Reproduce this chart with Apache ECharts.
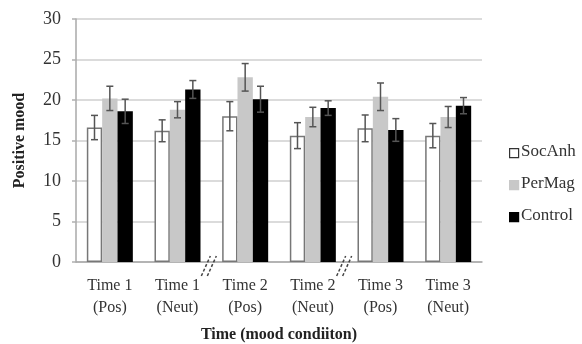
<!DOCTYPE html>
<html>
<head>
<meta charset="utf-8">
<script src="https://cdn.jsdelivr.net/npm/echarts@6/dist/echarts.min.js"></script>
<style>
  html, body { margin: 0; padding: 0; background: #fff; }
  #chart { width: 582px; height: 344px; }
</style>
</head>
<body>
<div id="chart"></div>
<script>
// categories and values
const categories = ['Time 1\n(Pos)', 'Time 1\n(Neut)', 'Time 2\n(Pos)', 'Time 2\n(Neut)', 'Time 3\n(Pos)', 'Time 3\n(Neut)'];
const socAnh = [16.6, 16.2, 18.0, 15.6, 16.5, 15.6];
const socAnhErr = [1.5, 1.35, 1.8, 1.6, 1.65, 1.5];
const perMag = [20.2, 18.8, 22.8, 17.9, 20.4, 17.9];
const perMagErr = [1.5, 1.0, 1.7, 1.2, 1.7, 1.3];
const control = [18.6, 21.3, 20.1, 19.0, 16.3, 19.3];
const controlErr = [1.5, 1.1, 1.6, 0.9, 1.4, 1.0];
const breakAfter = [1, 3]; // axis break marks after these categories

const serif = '"Liberation Serif", "DejaVu Serif", serif';
const chart = echarts.init(document.getElementById('chart'));

const groups = [
  { name: 'SocAnh', values: socAnh, errs: socAnhErr, color: '#ffffff', border: '#777777' },
  { name: 'PerMag', values: perMag, errs: perMagErr, color: '#c8c8c8', border: '#c8c8c8' },
  { name: 'Control', values: control, errs: controlErr, color: '#000000', border: '#000000' }
];
const barGapPct = 0.32;

// error bars, offset to sit on top of each bar
function errorSeries(idx) {
  const g = groups[idx];
  return {
    type: 'custom',
    name: g.name + ' err',
    z: 5,
    silent: true,
    data: g.values.map((v, i) => [i, v - g.errs[i], v + g.errs[i]]),
    renderItem: function (params, api) {
      const band = api.size([1, 0])[0];
      const barW = band * (1 - barGapPct) / 3;
      const center = api.coord([api.value(0), 0])[0];
      const x = center + (idx - 1) * barW;
      const lo = api.coord([api.value(0), api.value(1)])[1];
      const hi = api.coord([api.value(0), api.value(2)])[1];
      const cap = 3.5;
      const style = { stroke: '#555555', lineWidth: 1.5 };
      return {
        type: 'group',
        children: [
          { type: 'line', shape: { x1: x, y1: lo, x2: x, y2: hi }, style: style },
          { type: 'line', shape: { x1: x - cap, y1: lo, x2: x + cap, y2: lo }, style: style },
          { type: 'line', shape: { x1: x - cap, y1: hi, x2: x + cap, y2: hi }, style: style }
        ]
      };
    }
  };
}

// legend drawn by hand so the serif font sticks
const legendItems = [];
groups.forEach((g, i) => {
  const cy = 153 + i * 32;
  legendItems.push({
    type: 'rect',
    left: 509, top: cy - 5,
    shape: { width: 9, height: 9 },
    style: { fill: g.color, stroke: i === 0 ? '#333' : g.color, lineWidth: 1.2 }
  });
  legendItems.push({
    type: 'text',
    left: 521, top: cy - 10,
    style: { text: g.name, font: '17px "Liberation Serif", serif', fill: '#333' }
  });
});

const option = {
  backgroundColor: '#ffffff',
  animation: false,
  textStyle: { fontFamily: serif },
  grid: { left: 76, right: 100, top: 19, bottom: 82, outerBoundsMode: 'none' },
  graphic: legendItems,
  xAxis: {
    type: 'category',
    data: categories,
    name: 'Time (mood condiiton)',
    nameLocation: 'middle',
    nameGap: 65,
    nameTextStyle: { fontFamily: serif, fontSize: 16, fontWeight: 'bold', color: '#222' },
    axisLine: { lineStyle: { color: '#a8a8a8', width: 1.5 } },
    axisTick: { show: false },
    axisLabel: { fontFamily: serif, fontSize: 16, color: '#333', lineHeight: 22, margin: 13 }
  },
  yAxis: {
    type: 'value',
    min: 0,
    max: 30,
    interval: 5,
    name: 'Positive mood',
    nameLocation: 'middle',
    nameGap: 48,
    nameTextStyle: { fontFamily: serif, fontSize: 16, fontWeight: 'bold', color: '#222' },
    axisLine: { show: true, lineStyle: { color: '#a8a8a8', width: 1.5 } },
    axisTick: { show: true, length: 4, lineStyle: { color: '#b0b0b0', width: 1.5 } },
    axisLabel: { fontFamily: serif, fontSize: 18, color: '#333', margin: 15 },
    splitLine: { lineStyle: { color: '#cfcfcf', width: 1.5 } }
  },
  series: groups.map((g, i) => ({
    name: g.name,
    type: 'bar',
    data: g.values,
    barGap: '0%',
    barCategoryGap: (barGapPct * 100) + '%',
    itemStyle: { color: g.color, borderColor: g.border, borderWidth: i === 0 ? 1.5 : 0 }
  })).concat(groups.map((g, i) => errorSeries(i))).concat([{
    type: 'custom',
    name: 'breaks',
    z: 6,
    silent: true,
    data: breakAfter.map(c => [c, 0]),
    renderItem: function (params, api) {
      const band = api.size([1, 0])[0];
      const p = api.coord([api.value(0), 0]);
      const x = p[0] + band / 2;
      const y = p[1];
      const style = { stroke: '#444', lineWidth: 1.5, lineDash: [3, 2] };
      return {
        type: 'group',
        children: [
          { type: 'line', shape: { x1: x - 10, y1: y + 14, x2: x - 1, y2: y - 6 }, style: style },
          { type: 'line', shape: { x1: x - 4, y1: y + 14, x2: x + 5, y2: y - 6 }, style: style }
        ]
      };
    }
  }])
};

chart.setOption(option);
</script>
</body>
</html>
